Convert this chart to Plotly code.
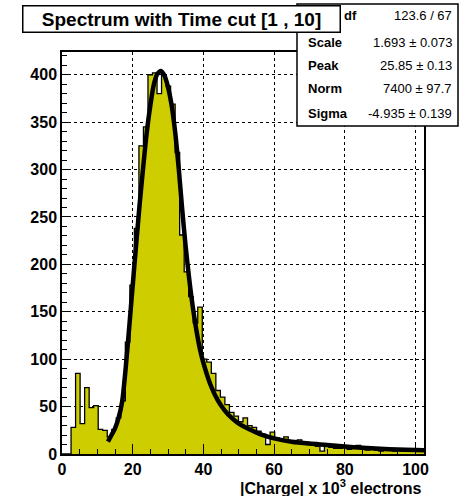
import plotly.graph_objects as go

# ---------------- data ----------------
bin_width = 1.28
n_bins = 80
counts = [
    0, 0, 28, 85, 32, 70, 49, 51, 26, 25,
    18, 26, 38, 56, 118, 178, 238, 325, 345, 400,
    402, 380, 400, 388, 369, 318, 231, 192, 166, 138,
    155, 100, 97, 85, 67, 60, 52, 44, 40, 34,
    38, 30, 28, 24, 21, 10, 23, 17, 16, 18,
    13, 14, 15, 11, 10, 9, 8, 3, 8, 7,
    6, 6, 7, 5, 6, 9, 5, 4, 5, 4,
    3, 4, 5, 3, 4, 3, 4, 3, 4, 3,
]
fit_x = [13, 14, 15, 16, 17, 18, 19, 20, 21, 22, 23, 24, 25, 26, 27, 28, 29, 30,
         31, 32, 33, 34, 35, 36, 37, 38, 39, 40, 42, 44, 46, 48, 50, 53, 56, 60,
         65, 70, 75, 80, 85, 90, 95, 100, 102.4]
fit_y = [13, 20, 27, 38, 55, 90, 133, 178, 222, 265, 304, 340, 368, 390, 401, 404, 399, 387,
         368, 340, 302, 258, 218, 184, 155, 131, 111, 96, 73, 57, 46, 38, 32, 26, 21, 16.5,
         13, 11, 9.5, 7.8, 6.5, 5.5, 4.8, 4.2, 4.0]

title_text = "Spectrum with Time cut [1 , 10]"
x_title = "|Charge| x 10<sup>3</sup> electrons"
# first stats label is mostly hidden behind the title box; only "df" shows
stat_labels = ["df", "Scale", "Peak", "Norm", "Sigma"]
stat_values = ["123.6 / 67", "1.693 \u00b1 0.073", "25.85 \u00b1 0.13",
               "7400 \u00b1 97.7", "-4.935 \u00b1 0.139"]
x_ticks = [0, 20, 40, 60, 80, 100]
y_ticks = [0, 50, 100, 150, 200, 250, 300, 350, 400]

# ---------------- layout geometry ----------------
W, H = 467, 496
L, R, T, B = 62, 43, 52, 42
PW, PH = W - L - R, H - T - B


def px2x(px):
    return (px - L) / PW


def py2y(py):
    return (H - B - py) / PH


edges = [bin_width * i for i in range(n_bins + 1)]
step_y = counts + [counts[-1]]

FONT = "Liberation Sans, Arial, Helvetica, sans-serif"
fill_col = "#cdcd00"

fig = go.Figure()
fig.add_trace(go.Scatter(
    x=edges, y=step_y, mode="lines", line=dict(shape="hv", color="black", width=1.3),
    fill="tozeroy", fillcolor=fill_col, showlegend=False, hoverinfo="skip"))
fig.add_trace(go.Scatter(
    x=fit_x, y=fit_y, mode="lines", line=dict(shape="spline", smoothing=0.8, color="black", width=4.5),
    showlegend=False, hoverinfo="skip"))

axis_common = dict(
    showline=True, linecolor="black", linewidth=1.5, mirror=True,
    ticks="inside", tickcolor="black", tickwidth=1.2,
    showgrid=True, gridcolor="black", gridwidth=1.2, griddash="dot",
    zeroline=False,
    tickfont=dict(family=FONT, size=16, color="black", weight="bold"),
)

fig.update_xaxes(range=[0, bin_width * n_bins], tickvals=x_ticks, ticklen=10,
                 minor=dict(dtick=5, tick0=0, ticks="inside", ticklen=5, tickcolor="black",
                            tickwidth=1.2, showgrid=False),
                 **axis_common)
fig.update_yaxes(range=[0, 424], tickvals=y_ticks, ticklen=9,
                 minor=dict(dtick=10, tick0=0, ticks="inside", ticklen=5, tickcolor="black",
                            tickwidth=1.2, showgrid=False),
                 **axis_common)

shapes = [dict(type="rect", xref="paper", yref="paper",
               x0=px2x(297), x1=px2x(458), y0=py2y(126), y1=py2y(4),
               fillcolor="white", line=dict(color="black", width=1.5), layer="above")]

annotations = []
row_py = [16, 42, 65, 89, 113]
label_px = [342, 306, 306, 306, 306]
for lab, val, ry, lx in zip(stat_labels, stat_values, row_py, label_px):
    annotations.append(dict(xref="paper", yref="paper", x=px2x(lx), y=py2y(ry),
                            xanchor="left", yanchor="middle", text=lab, showarrow=False,
                            font=dict(family=FONT, size=13, color="black", weight="bold")))
    annotations.append(dict(xref="paper", yref="paper", x=px2x(454), y=py2y(ry),
                            xanchor="right", yanchor="middle", text=val, showarrow=False,
                            font=dict(family=FONT, size=13, color="black")))

# title box (drawn over the stats box, as in the reference)
annotations.append(dict(xref="paper", yref="paper", x=px2x(22), y=py2y(5),
                        xanchor="left", yanchor="top", text=title_text, showarrow=False,
                        width=316, height=25, borderpad=0, align="center", valign="middle",
                        bgcolor="white", bordercolor="black", borderwidth=1.5,
                        font=dict(family=FONT, size=19, color="black", weight="bold")))
# x-axis title
annotations.append(dict(xref="paper", yref="paper", x=px2x(424), y=py2y(487),
                        xanchor="right", yanchor="middle", text=x_title, showarrow=False,
                        font=dict(family=FONT, size=16, color="black", weight="bold")))

fig.update_layout(width=W, height=H, autosize=False,
                  margin=dict(l=L, r=R, t=T, b=B, pad=0),
                  paper_bgcolor="white", plot_bgcolor="white",
                  shapes=shapes, annotations=annotations)

fig.write_html("out.html", config={"displayModeBar": False},
               post_script="document.body.style.margin='0';document.body.style.padding='0';")
